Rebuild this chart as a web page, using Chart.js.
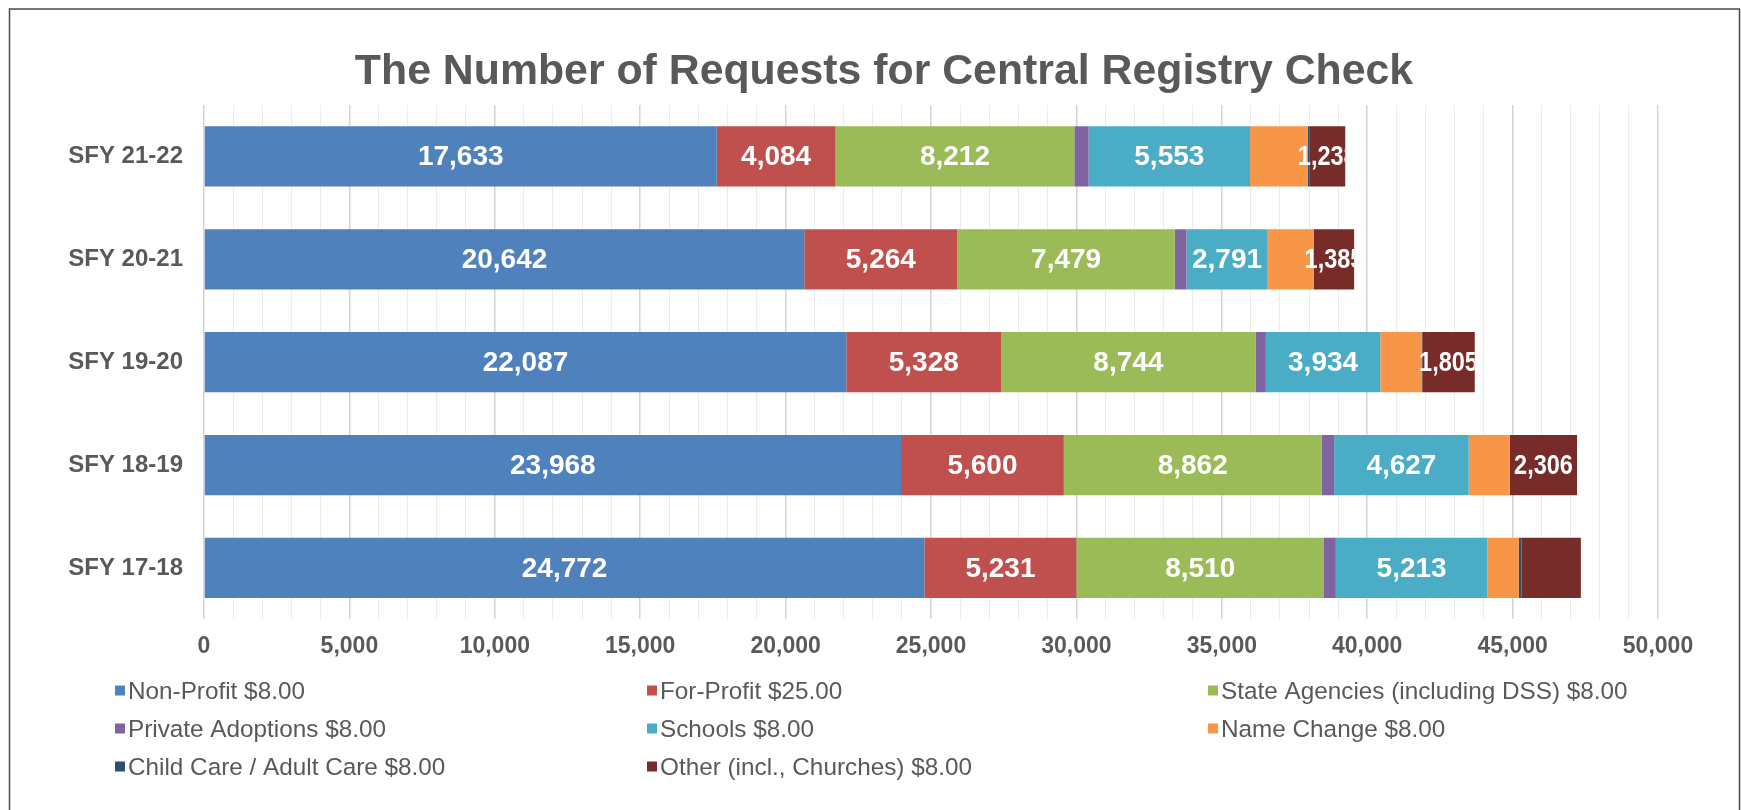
<!DOCTYPE html>
<html>
<head>
<meta charset="utf-8">
<title>The Number of Requests for Central Registry Check</title>
<script src="https://cdn.jsdelivr.net/npm/chart.js@4.4.1/dist/chart.umd.min.js"></script>
<style>
  html, body { margin: 0; padding: 0; background: #fff; overflow: hidden; }
  #wrap { position: relative; width: 1741px; height: 810px; }
</style>
</head>
<body>
<div id="wrap"><canvas id="chart"></canvas></div>
<script>
const TITLE = "The Number of Requests for Central Registry Check";

const years = ["SFY 21-22", "SFY 20-21", "SFY 19-20", "SFY 18-19", "SFY 17-18"];

const nonProfit = [17633, 20642, 22087, 23968, 24772];
const forProfit = [4084, 5264, 5328, 5600, 5231];
const stateAgencies = [8212, 7479, 8744, 8862, 8510];
const privateAdoptions = [490, 400, 357, 433, 409];
const schools = [5553, 2791, 3934, 4627, 5213];
const nameChange = [1985, 1580, 1434, 1410, 1080];
const childCare = [50, 10, 10, 10, 90];
const other = [1238, 1385, 1805, 2306, 2043];

const seriesNames = [
  "Non-Profit $8.00",
  "For-Profit $25.00",
  "State Agencies (including DSS) $8.00",
  "Private Adoptions $8.00",
  "Schools $8.00",
  "Name Change $8.00",
  "Child Care / Adult Care $8.00",
  "Other (incl., Churches) $8.00"
];
const seriesValues = [nonProfit, forProfit, stateAgencies, privateAdoptions, schools, nameChange, childCare, other];
const seriesColors = ["#4f81bd", "#c0504d", "#9bbb59", "#8064a2", "#4bacc6", "#f79646", "#2c4d75", "#772c2a"];

// series that carry a number inside the bar
const labelledSeries = [0, 1, 2, 4, 7];
const otherLabelShown = [true, true, true, true, false];

const FONT = "'Liberation Sans', Arial, sans-serif";
Chart.defaults.font.family = FONT;

// frame round the picture
const frame = {
  id: "frame",
  beforeDraw(chart) {
    const c = chart.ctx;
    c.save();
    c.fillStyle = "#fff";
    c.fillRect(0, 0, chart.width, chart.height);
    c.strokeStyle = "#4a4a4a";
    c.lineWidth = 1.5;
    c.beginPath();
    c.moveTo(9.5, chart.height);
    c.lineTo(9.5, 9);
    c.lineTo(1739.5, 9);
    c.lineTo(1739.5, chart.height);
    c.stroke();
    c.restore();
  }
};

// title, placed where the original has it
const chartTitle = {
  id: "chartTitle",
  afterDraw(chart) {
    const c = chart.ctx;
    c.save();
    c.font = "bold 42.8px " + FONT;
    c.fillStyle = "#595959";
    c.textAlign = "center";
    c.textBaseline = "alphabetic";
    c.fillText(TITLE, 884, 84);
    c.restore();
  }
};

// legend in three columns
const gridLegend = {
  id: "gridLegend",
  afterDraw(chart) {
    const c = chart.ctx;
    const colX = [115, 647, 1208];
    const rowMid = [690, 728, 766];
    c.save();
    c.font = "24.3px " + FONT;
    c.textBaseline = "alphabetic";
    chart.data.datasets.forEach((ds, i) => {
      const x = colX[i % 3];
      const y = rowMid[Math.floor(i / 3)];
      c.fillStyle = ds.backgroundColor;
      c.fillRect(x, y - 4.5, 10, 10);
      c.fillStyle = "#595959";
      c.fillText(ds.label, x + 13, y + 8.6);
    });
    c.restore();
  }
};

// numbers inside the bars
const valueLabels = {
  id: "valueLabels",
  afterDatasetsDraw(chart) {
    const c = chart.ctx;
    const area = chart.chartArea;
    const lastMeta = chart.getDatasetMeta(chart.data.datasets.length - 1);
    c.save();
    c.font = "bold 28px " + FONT;
    c.fillStyle = "#fff";
    c.textAlign = "center";
    c.textBaseline = "middle";
    labelledSeries.forEach(di => {
      const meta = chart.getDatasetMeta(di);
      const values = chart.data.datasets[di].data;
      meta.data.forEach((bar, i) => {
        if (di === 7 && !otherLabelShown[i]) return;
        const p = bar.getProps(["x", "y", "base", "height"], true);
        const endX = lastMeta.data[i].getProps(["x"], true).x;
        const cx = (p.x + p.base) / 2;
        c.save();
        c.beginPath();
        c.rect(area.left, p.y - p.height / 2, endX - area.left, p.height);
        c.clip();
        c.translate(cx, p.y + 1);
        if (di === 7) c.scale(0.84, 1);
        c.fillText(values[i].toLocaleString("en-US"), 0, 0);
        c.restore();
      });
    });
    c.restore();
  }
};

const ctx = document.getElementById("chart").getContext("2d");

const chart = new Chart(ctx, {
  type: "bar",
  data: {
    labels: years,
    datasets: seriesNames.map((name, i) => ({
      label: name,
      data: seriesValues[i],
      backgroundColor: seriesColors[i],
      borderWidth: 0,
      barPercentage: 0.585,
      categoryPercentage: 1.0
    }))
  },
  options: {
    responsive: true,
    maintainAspectRatio: false,
    animation: false,
    indexAxis: "y",
    layout: { padding: { top: 105, right: 83, bottom: 137, left: 0 } },
    plugins: {
      legend: { display: false },
      title: { display: false },
      tooltip: { enabled: false }
    },
    scales: {
      x: {
        stacked: true,
        min: 0,
        max: 50000,
        border: { display: false },
        grid: {
          drawTicks: false,
          color: c => (c.tick && c.tick.value % 5000 === 0 ? "#d4d4d4" : "#ececec"),
          lineWidth: c => (c.tick && c.tick.value % 5000 === 0 ? 1.5 : 1)
        },
        ticks: {
          stepSize: 1000,
          autoSkip: false,
          maxRotation: 0,
          padding: 13,
          color: "#595959",
          font: { size: 23, weight: "bold" },
          callback: v => (v % 5000 === 0 ? v.toLocaleString("en-US") : "")
        }
      },
      y: {
        stacked: true,
        border: { display: false },
        grid: { display: false },
        ticks: {
          padding: 13,
          color: "#595959",
          font: { size: 24, weight: "bold" }
        },
        afterFit: s => { s.width = 204; }
      }
    }
  },
  plugins: [frame, valueLabels, chartTitle, gridLegend]
});
</script>
</body>
</html>
